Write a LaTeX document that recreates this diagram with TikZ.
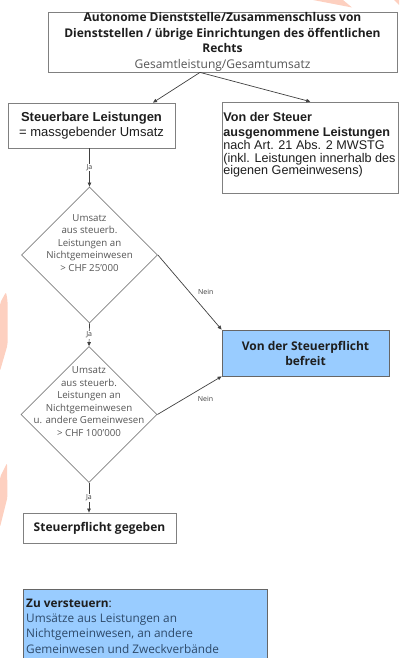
\documentclass[tikz,border=0pt]{standalone}
\usepackage{fontspec}
\setmainfont{Open Sans}
\newfontfamily\arialf{Liberation Sans}
\usetikzlibrary{arrows.meta,shapes.geometric}

\definecolor{lblue}{HTML}{99CCFF}
\definecolor{wm}{HTML}{FDD0C0}
\definecolor{bordergray}{HTML}{808080}
\definecolor{linegray}{HTML}{404040}
\definecolor{txtgray}{HTML}{555555}
\definecolor{bluetxt}{HTML}{2E4A6A}
\definecolor{darktxt}{HTML}{1E1E1E}

\begin{document}
\begin{tikzpicture}[x=1pt,y=-1pt,
  box/.style={draw=bordergray, line width=0.8pt, inner sep=0pt, fill=white, text=darktxt},
  bbox/.style={draw=linegray!80, line width=0.8pt, inner sep=0pt, fill=lblue, text=darktxt},
  diam/.style={draw=bordergray, line width=0.8pt, shape=diamond, inner sep=0pt,
               minimum width=136, minimum height=136},
  dtext/.style={align=center, inner sep=0pt, text=txtgray, font=\fontsize{9.7}{12.5}\selectfont},
  arr/.style={draw=linegray, line width=0.7pt, -{Triangle[length=4pt,width=3.5pt]}},
  lbl/.style={font=\fontsize{7}{8}\selectfont, fill=white, inner sep=0.6pt, text=linegray}]

\useasboundingbox (0,0) rectangle (399,658);
\clip (0,0) rectangle (399,658);

% watermark fragments
\fill[wm] (313,0) -- (343,0) -- (352,7.5) -- cycle;
\fill[wm] (394,0) -- (399,0) -- (399,5) -- cycle;
\fill[wm, rounded corners=2pt] (0,303) -- (6,292) -- (7.5,300) -- (7.5,345) -- (0,371) -- cycle;
\fill[wm, rounded corners=2pt] (0,477) -- (7,463) -- (7.5,497) -- (0,527) -- cycle;

% top box
\node[box, minimum width=349, minimum height=60, align=center,
      font=\fontsize{12}{15.7}\selectfont] (top) at (222.5,42)
  {\textbf{Autonome Dienststelle/Zusammenschluss von}\\
   \textbf{Dienststellen / übrige Einrichtungen des öffentlichen}\\
   \textbf{Rechts}\\
   \textcolor{txtgray}{Gesamtleistung/Gesamtumsatz}};

% left box
\node[box, minimum width=167, minimum height=45, align=center,
      font=\arialf\fontsize{13}{15}\selectfont] (lbox) at (91.5,125.5)
  {\textbf{Steuerbare Leistungen}\\ = massgebender Umsatz};

% right box
\node[box, minimum width=176.5, minimum height=91] (rbox) at (310.25,147.5) {};
\node[anchor=north west, inner sep=0pt, align=left, text=darktxt,
      font=\arialf\fontsize{12.6}{12.6}\selectfont] (rtext) at (223.2,112.5)
  {\textbf{Von der Steuer}\\[2.4pt]
   \textbf{ausgenommene Leistungen}\\
   nach Art. 21 Abs. 2 MWSTG\\
   (inkl. Leistungen innerhalb des\\
   eigenen Gemeinwesens)};

% diamonds
\node[diam] (d1) at (89.5,255) {};
\node[dtext] (d1t) at ([yshift=12pt]d1.center)
  {Umsatz\\ aus steuerb.\\ Leistungen an\\ Nichtgemeinwesen\\ > CHF 25'000};
\node[diam] (d2) at (89,414.5) {};
\node[dtext] (d2t) at ([yshift=13pt]d2.center)
  {Umsatz\\ aus steuerb.\\ Leistungen an\\ Nichtgemeinwesen\\ u. andere Gemeinwesen\\ > CHF 100'000};

% exempt box
\node[bbox, minimum width=167, minimum height=46, align=center,
      font=\bfseries\fontsize{12}{15}\selectfont] (free) at (305.5,353)
  {Von der Steuerpflicht\\ befreit};

% liable box
\node[box, minimum width=153, minimum height=30,
      font=\bfseries\fontsize{12}{14}\selectfont] (gbox) at (99.5,528)
  {Steuerpflicht gegeben};

% bottom note box
\node[bbox, minimum width=244, minimum height=90, anchor=north west] (zbox) at (23,589) {};
\node[anchor=north west, inner sep=0pt, align=left, text=darktxt,
      font=\fontsize{11.8}{15.3}\selectfont] (ztext) at (26,598.5)
  {\textbf{Zu versteuern}:\\
   \textcolor{bluetxt}{Umsätze aus Leistungen an}\\
   \textcolor{bluetxt}{Nichtgemeinwesen, an andere}\\
   \textcolor{bluetxt}{Gemeinwesen und Zweckverbände}};

% connectors
\coordinate (split) at ([xshift=-22.5pt]top.south);
\draw[arr] (split) -- ([xshift=61.5pt]lbox.north);
\draw[arr] (split) -- (rbox.north);
\draw[arr] (lbox.south -| d1.north) -- node[lbl] {Ja} (d1.north);
\draw[arr] (d1.south) -- node[lbl] {Ja} (d2.north);
\draw[arr] (d2.south) -- node[lbl] {Ja} ([xshift=-10.5pt]gbox.north);
\draw[arr] (d1.east) -- node[lbl, fill=none, xshift=16pt] {Nein} (free.north west);
\draw[arr] (d2.east) -- node[lbl, fill=none, xshift=16pt, yshift=-4pt] {Nein} (free.south west);

\end{tikzpicture}
\end{document}
